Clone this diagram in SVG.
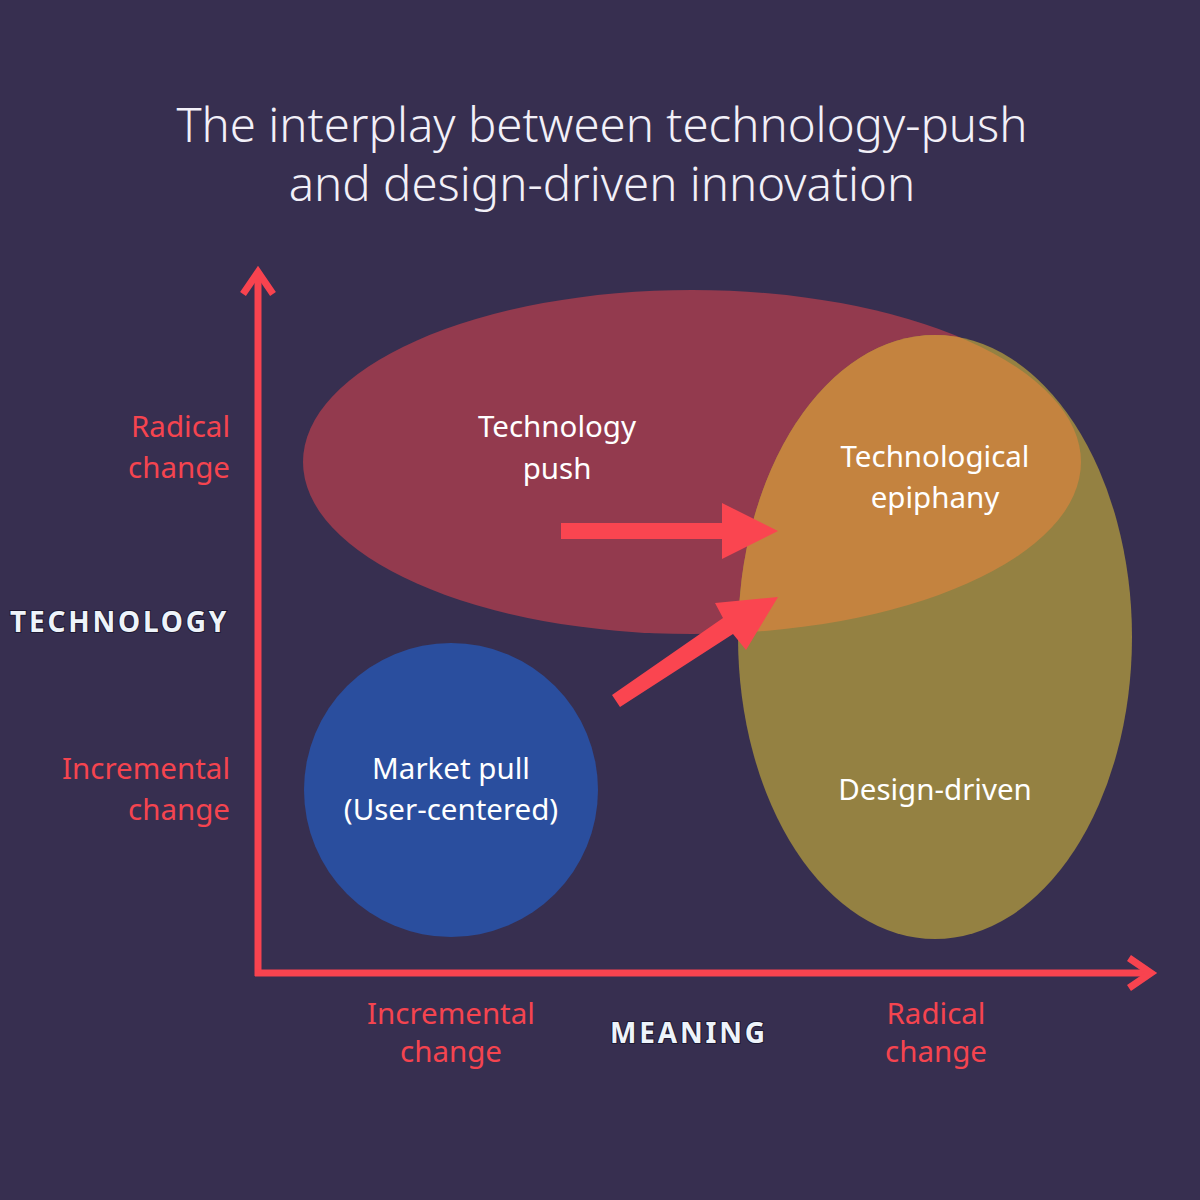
<svg xmlns="http://www.w3.org/2000/svg" width="1200" height="1200" viewBox="0 0 1200 1200">
  <style>
    .title { font-family: "Noto Sans", "Liberation Sans", sans-serif; font-size: 47.4px; font-weight: 300; fill: #F2F0F8; text-anchor: middle; }
    .lbl { font-family: "Noto Sans", "Liberation Sans", sans-serif; font-size: 29.5px; fill: #FFFFFF; text-anchor: middle; }
    .scale { font-family: "Noto Sans", "Liberation Sans", sans-serif; font-size: 29.5px; fill: #F5444F; }
    .axis-name { font-family: "Noto Sans", "Liberation Sans", sans-serif; font-size: 28px; font-weight: 700; fill: #EEF4FA; letter-spacing: 2.8px; stroke: #1E1A33; stroke-width: 2px; paint-order: stroke; }
    .axis { stroke: #F8434F; stroke-width: 7; fill: none; stroke-linecap: butt; stroke-linejoin: miter; }
    .flow { fill: #FA4550; }
  </style>
  <defs>
    <clipPath id="clip-push">
      <ellipse cx="692" cy="462" rx="389" ry="172"/>
    </clipPath>
  </defs>

  <rect width="1200" height="1200" fill="#372F50"/>

  <text class="title" x="602" y="142">The interplay between technology-push</text>
  <text class="title" x="602" y="201">and design-driven innovation</text>

  <g id="technology-push">
    <ellipse cx="692" cy="462" rx="389" ry="172" fill="#933A4E"/>
    <text class="lbl" x="557" y="437">Technology</text>
    <text class="lbl" x="557" y="479">push</text>
  </g>

  <g id="design-driven">
    <ellipse cx="935" cy="637" rx="197" ry="302" fill="#948142"/>
    <text class="lbl" x="935" y="800">Design-driven</text>
  </g>

  <g id="technological-epiphany">
    <ellipse cx="935" cy="637" rx="197" ry="302" fill="#C4833F" clip-path="url(#clip-push)"/>
    <text class="lbl" x="935" y="467">Technological</text>
    <text class="lbl" x="935" y="508">epiphany</text>
  </g>

  <g id="market-pull">
    <circle cx="451" cy="790" r="147" fill="#2A4E9E"/>
    <text class="lbl" x="451" y="779">Market pull</text>
    <text class="lbl" x="451" y="820">(User-centered)</text>
  </g>

  <g id="connectors">
    <!-- axes with open chevron heads -->
    <line class="axis" x1="258" y1="976" x2="258" y2="272"/>
    <polyline class="axis" points="243,294 258,272 273,294"/>
    <line class="axis" x1="255" y1="973" x2="1150" y2="973"/>
    <polyline class="axis" points="1129,958 1151,973 1129,988"/>
    <!-- block arrows into the overlap -->
    <polygon class="flow" points="561,523 722,523 722,503 778,531 722,559 722,539 561,539"/>
    <polygon class="flow" points="612,695 723,618 715,603 778,597 746,650 733,634 620,707"/>
  </g>

  <g id="axis-labels">
    <text class="scale" x="230" y="437" text-anchor="end">Radical</text>
    <text class="scale" x="230" y="478" text-anchor="end">change</text>
    <text class="scale" x="230" y="779" text-anchor="end">Incremental</text>
    <text class="scale" x="230" y="820" text-anchor="end">change</text>
    <text class="axis-name" x="10" y="632">TECHNOLOGY</text>

    <text class="scale" x="451" y="1024" text-anchor="middle">Incremental</text>
    <text class="scale" x="451" y="1062" text-anchor="middle">change</text>
    <text class="axis-name" x="689" y="1043" text-anchor="middle">MEANING</text>
    <text class="scale" x="936" y="1024" text-anchor="middle">Radical</text>
    <text class="scale" x="936" y="1062" text-anchor="middle">change</text>
  </g>
</svg>
